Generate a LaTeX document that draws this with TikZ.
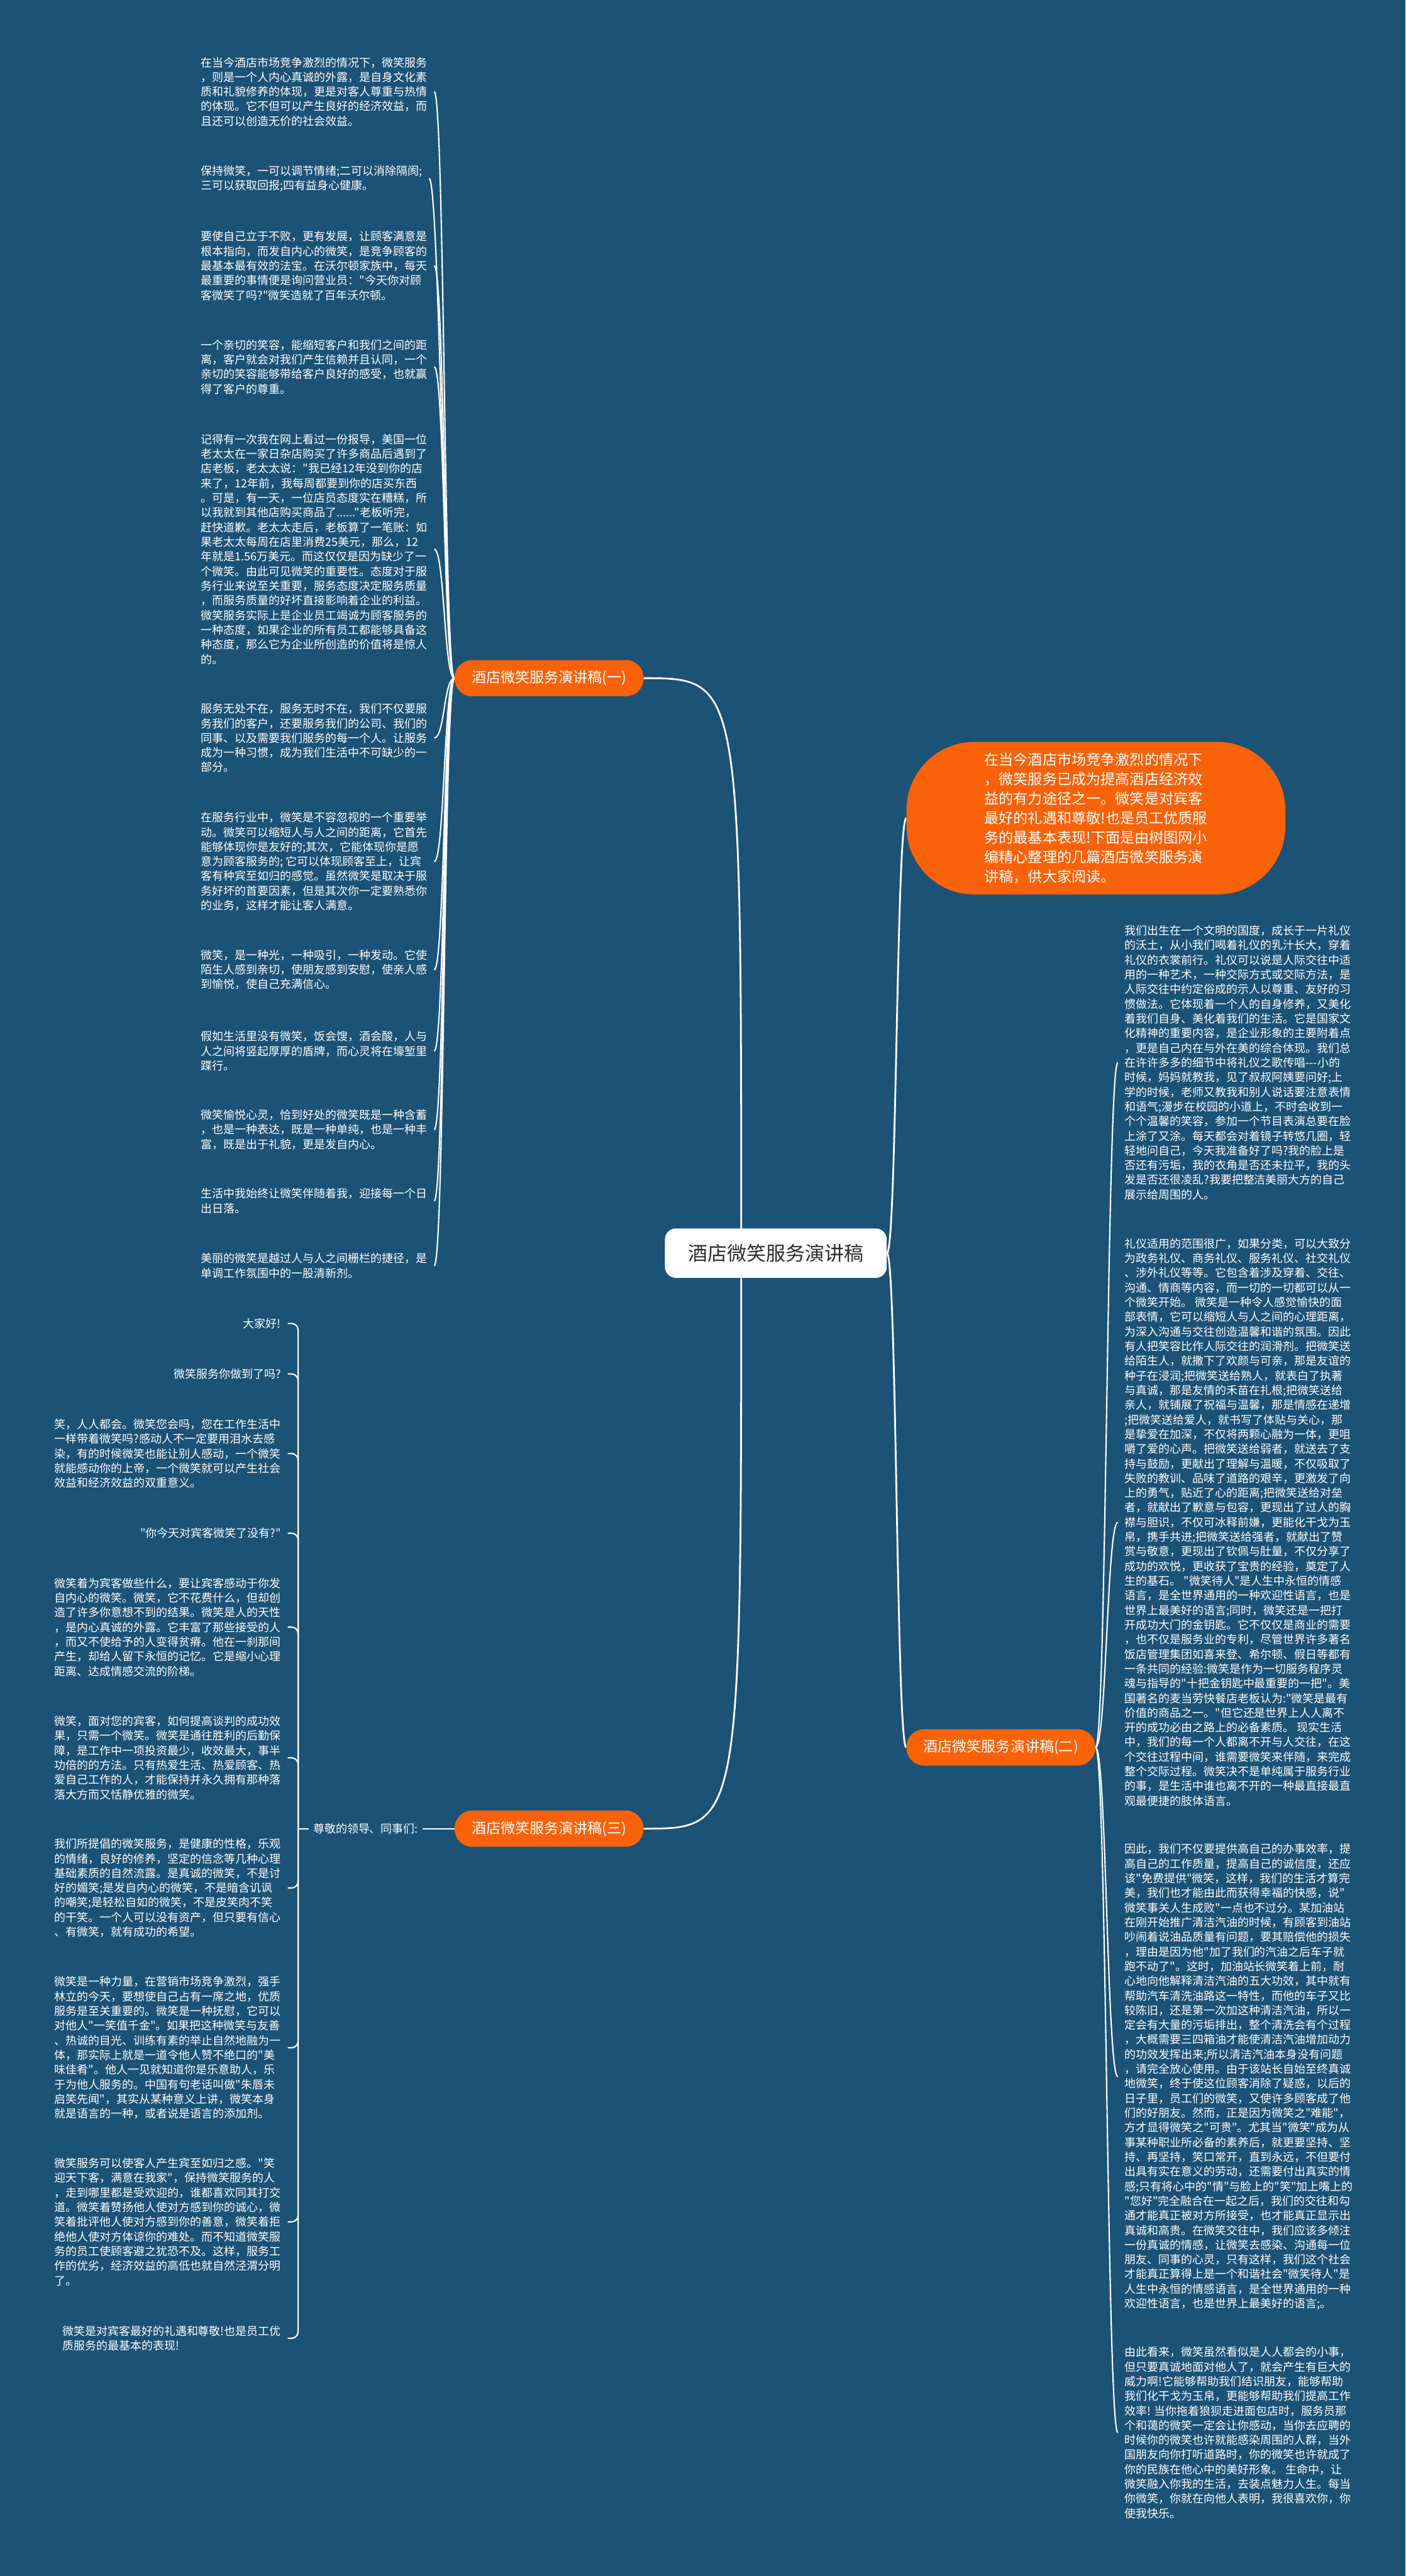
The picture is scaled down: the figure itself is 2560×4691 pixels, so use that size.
\documentclass[tikz,border=0pt]{standalone}
\usepackage{fontspec}
\setmainfont{Noto Sans CJK SC}[Ligatures=TeXOff]
\usetikzlibrary{calc}
\definecolor{bgblue}{RGB}{27,82,118}
\definecolor{orng}{RGB}{250,98,10}
\definecolor{rootink}{RGB}{45,45,45}
\pgfdeclarelayer{bglayer}
\pgfdeclarelayer{linelayer}
\pgfsetlayers{bglayer,linelayer,main}
\begin{document}
\begin{tikzpicture}[x=0.5pt,y=-0.5pt,
 leaf/.style={text=white, font=\fontsize{10.3pt}{13.35pt}\selectfont, align=left, inner xsep=6pt, inner ysep=2pt},
 branchbox/.style={fill=orng, text=white, rounded corners=16pt, minimum height=33pt, minimum width=172pt, font=\fontsize{13.2pt}{16pt}\selectfont, inner sep=0pt},
 rootbox/.style={fill=white, text=rootink, rounded corners=10pt, minimum height=45pt, minimum width=202pt, font=\fontsize{17.75pt}{20pt}\selectfont},
 introbox/.style={fill=orng, text=white, rounded corners=62pt, minimum height=139pt, minimum width=345pt, align=left, font=\fontsize{13.25pt}{17.7pt}\selectfont},
 link/.style={draw=white, line width=1.2pt},
 mainlink/.style={draw=white, line width=1.6pt}]
\useasboundingbox (0,0) rectangle (2560,4691);
\begin{pgfonlayer}{bglayer}
\fill[bgblue] (0,0) rectangle (2560,4691);
\end{pgfonlayer}

% ---------- central and branch nodes
\node[rootbox] (root) at (1413,2282) {酒店微笑服务演讲稿};
\node[introbox] (intro) at (1996,1490) {在当今酒店市场竞争激烈的情况下\\，微笑服务已成为提高酒店经济效\\益的有力途径之一。微笑是对宾客\\最好的礼遇和尊敬!也是员工优质服\\务的最基本表现!下面是由树图网小\\编精心整理的几篇酒店微笑服务演\\讲稿，供大家阅读。};
\node[branchbox] (b1) at (1000,1235) {酒店微笑服务演讲稿(一)};
\node[branchbox] (b2) at (1823,3182) {酒店微笑服务演讲稿(二)};
\node[branchbox] (b3) at (1000,3330) {酒店微笑服务演讲稿(三)};
\node[leaf, anchor=west, inner xsep=4pt] (m3) at (562,3330) {尊敬的领导、同事们:};

% ---------- branch 1 leaves
\node[leaf, anchor=west] (c1) at (354,167) {在当今酒店市场竞争激烈的情况下，微笑服务\\，则是一个人内心真诚的外露，是自身文化素\\质和礼貌修养的体现，更是对客人尊重与热情\\的体现。它不但可以产生良好的经济效益，而\\且还可以创造无价的社会效益。};
\node[leaf, anchor=west] (c2) at (354,325) {保持微笑，一可以调节情绪;二可以消除隔阂;\\三可以获取回报;四有益身心健康。};
\node[leaf, anchor=west] (c3) at (354,484) {要使自己立于不败，更有发展，让顾客满意是\\根本指向，而发自内心的微笑，是竞争顾客的\\最基本最有效的法宝。在沃尔顿家族中，每天\\最重要的事情便是询问营业员："今天你对顾\\客微笑了吗?"微笑造就了百年沃尔顿。};
\node[leaf, anchor=west] (c4) at (354,668) {一个亲切的笑容，能缩短客户和我们之间的距\\离，客户就会对我们产生信赖并且认同，一个\\亲切的笑容能够带给客户良好的感受，也就赢\\得了客户的尊重。};
\node[leaf, anchor=west] (c5) at (354,1000) {记得有一次我在网上看过一份报导，美国一位\\老太太在一家日杂店购买了许多商品后遇到了\\店老板，老太太说："我已经12年没到你的店\\来了，12年前，我每周都要到你的店买东西\\。可是，有一天，一位店员态度实在糟糕，所\\以我就到其他店购买商品了......"老板听完，\\赶快道歉。老太太走后，老板算了一笔账：如\\果老太太每周在店里消费25美元，那么，12\\年就是1.56万美元。而这仅仅是因为缺少了一\\个微笑。由此可见微笑的重要性。态度对于服\\务行业来说至关重要，服务态度决定服务质量\\，而服务质量的好坏直接影响着企业的利益。\\微笑服务实际上是企业员工竭诚为顾客服务的\\一种态度，如果企业的所有员工都能够具备这\\种态度，那么它为企业所创造的价值将是惊人\\的。};
\node[leaf, anchor=west] (c6) at (354,1344) {服务无处不在，服务无时不在，我们不仅要服\\务我们的客户，还要服务我们的公司、我们的\\同事、以及需要我们服务的每一个人。让服务\\成为一种习惯，成为我们生活中不可缺少的一\\部分。};
\node[leaf, anchor=west] (c7) at (354,1569) {在服务行业中，微笑是不容忽视的一个重要举\\动。微笑可以缩短人与人之间的距离，它首先\\能够体现你是友好的;其次，它能体现你是愿\\意为顾客服务的; 它可以体现顾客至上，让宾\\客有种宾至如归的感觉。虽然微笑是取决于服\\务好坏的首要因素，但是其次你一定要熟悉你\\的业务，这样才能让客人满意。};
\node[leaf, anchor=west] (c8) at (354,1766) {微笑，是一种光，一种吸引，一种发动。它使\\陌生人感到亲切，使朋友感到安慰，使亲人感\\到愉悦，使自己充满信心。};
\node[leaf, anchor=west] (c9) at (354,1914) {假如生活里没有微笑，饭会馊，酒会酸，人与\\人之间将竖起厚厚的盾牌，而心灵将在壕堑里\\蹀行。};
\node[leaf, anchor=west] (c10) at (354,2057) {微笑愉悦心灵，恰到好处的微笑既是一种含蓄\\，也是一种表达，既是一种单纯，也是一种丰\\富，既是出于礼貌，更是发自内心。};
\node[leaf, anchor=west] (c11) at (354,2187) {生活中我始终让微笑伴随着我，迎接每一个日\\出日落。};
\node[leaf, anchor=west] (c12) at (354,2305) {美丽的微笑是越过人与人之间栅栏的捷径，是\\单调工作氛围中的一股清新剂。};

% ---------- branch 3 leaves
\node[leaf, anchor=east] (l1) at (524,2410) {大家好!};
\node[leaf, anchor=east] (l2) at (524,2502) {微笑服务你做到了吗?};
\node[leaf, anchor=east] (l3) at (524,2647) {笑，人人都会。微笑您会吗，您在工作生活中\\一样带着微笑吗?感动人不一定要用泪水去感\\染，有的时候微笑也能让别人感动，一个微笑\\就能感动你的上帝，一个微笑就可以产生社会\\效益和经济效益的双重意义。};
\node[leaf, anchor=east] (l4) at (524,2792) {"你今天对宾客微笑了没有?"};
\node[leaf, anchor=east] (l5) at (524,2963) {微笑着为宾客做些什么，要让宾客感动于你发\\自内心的微笑。微笑，它不花费什么，但却创\\造了许多你意想不到的结果。微笑是人的天性\\，是内心真诚的外露。它丰富了那些接受的人\\，而又不使给予的人变得贫瘠。他在一刹那间\\产生，却给人留下永恒的记忆。它是缩小心理\\距离、达成情感交流的阶梯。};
\node[leaf, anchor=east] (l6) at (524,3201) {微笑，面对您的宾客，如何提高谈判的成功效\\果，只需一个微笑。微笑是通往胜利的后勤保\\障，是工作中一项投资最少，收效最大，事半\\功倍的的方法。只有热爱生活、热爱顾客、热\\爱自己工作的人，才能保持并永久拥有那种落\\落大方而又恬静优雅的微笑。};
\node[leaf, anchor=east] (l7) at (524,3438) {我们所提倡的微笑服务，是健康的性格，乐观\\的情绪，良好的修养，坚定的信念等几种心理\\基础素质的自然流露。是真诚的微笑，不是讨\\好的媚笑;是发自内心的微笑，不是暗含讥讽\\的嘲笑;是轻松自如的微笑，不是皮笑肉不笑\\的干笑。一个人可以没有资产，但只要有信心\\、有微笑，就有成功的希望。};
\node[leaf, anchor=east] (l8) at (524,3729) {微笑是一种力量，在营销市场竞争激烈，强手\\林立的今天，要想使自己占有一席之地，优质\\服务是至关重要的。微笑是一种抚慰，它可以\\对他人"一笑值千金"。如果把这种微笑与友善\\、热诚的目光、训练有素的举止自然地融为一\\体，那实际上就是一道令他人赞不绝口的"美\\味佳肴"。他人一见就知道你是乐意助人，乐\\于为他人服务的。中国有句老话叫做"朱唇未\\启笑先闻"，其实从某种意义上讲，微笑本身\\就是语言的一种，或者说是语言的添加剂。};
\node[leaf, anchor=east] (l9) at (524,4046) {微笑服务可以使客人产生宾至如归之感。"笑\\迎天下客，满意在我家"，保持微笑服务的人\\，走到哪里都是受欢迎的，谁都喜欢同其打交\\道。微笑着赞扬他人使对方感到你的诚心，微\\笑着批评他人使对方感到你的善意，微笑着拒\\绝他人使对方体谅你的难处。而不知道微笑服\\务的员工使顾客避之犹恐不及。这样，服务工\\作的优劣，经济效益的高低也就自然泾渭分明\\了。};
\node[leaf, anchor=east] (l10) at (524,4258) {微笑是对宾客最好的礼遇和尊敬!也是员工优\\质服务的最基本的表现!};

% ---------- branch 2 leaves
\node[leaf, anchor=west] (r1) at (2036,1935) {我们出生在一个文明的国度，成长于一片礼仪\\的沃土，从小我们喝着礼仪的乳汁长大，穿着\\礼仪的衣裳前行。礼仪可以说是人际交往中适\\用的一种艺术，一种交际方式或交际方法，是\\人际交往中约定俗成的示人以尊重、友好的习\\惯做法。它体现着一个人的自身修养，又美化\\着我们自身、美化着我们的生活。它是国家文\\化精神的重要内容，是企业形象的主要附着点\\，更是自己内在与外在美的综合体现。我们总\\在许许多多的细节中将礼仪之歌传唱-\kern0pt-\kern0pt-小的\\时候，妈妈就教我，见了叔叔阿姨要问好;上\\学的时候，老师又教我和别人说话要注意表情\\和语气;漫步在校园的小道上，不时会收到一\\个个温馨的笑容，参加一个节目表演总要在脸\\上涂了又涂。每天都会对着镜子转悠几圈，轻\\轻地问自己，今天我准备好了吗?我的脸上是\\否还有污垢，我的衣角是否还未拉平，我的头\\发是否还很凌乱?我要把整洁美丽大方的自己\\展示给周围的人。};
\node[leaf, anchor=west] (r2) at (2036,2772) {礼仪适用的范围很广，如果分类，可以大致分\\为政务礼仪、商务礼仪、服务礼仪、社交礼仪\\、涉外礼仪等等。它包含着涉及穿着、交往、\\沟通、情商等内容，而一切的一切都可以从一\\个微笑开始。 微笑是一种令人感觉愉快的面\\部表情，它可以缩短人与人之间的心理距离，\\为深入沟通与交往创造温馨和谐的氛围。因此\\有人把笑容比作人际交往的润滑剂。把微笑送\\给陌生人，就撒下了欢颜与可亲，那是友谊的\\种子在浸润;把微笑送给熟人，就表白了执著\\与真诚，那是友情的禾苗在扎根;把微笑送给\\亲人，就铺展了祝福与温馨，那是情感在递增\\;把微笑送给爱人，就书写了体贴与关心，那\\是挚爱在加深，不仅将两颗心融为一体，更咀\\嚼了爱的心声。把微笑送给弱者，就送去了支\\持与鼓励，更献出了理解与温暖，不仅吸取了\\失败的教训、品味了道路的艰辛，更激发了向\\上的勇气，贴近了心的距离;把微笑送给对垒\\者，就献出了歉意与包容，更现出了过人的胸\\襟与胆识，不仅可冰释前嫌，更能化干戈为玉\\帛，携手共进;把微笑送给强者，就献出了赞\\赏与敬意，更现出了钦佩与肚量，不仅分享了\\成功的欢悦，更收获了宝贵的经验，奠定了人\\生的基石。 "微笑待人"是人生中永恒的情感\\语言，是全世界通用的一种欢迎性语言，也是\\世界上最美好的语言;同时，微笑还是一把打\\开成功大门的金钥匙。它不仅仅是商业的需要\\，也不仅是服务业的专利，尽管世界许多著名\\饭店管理集团如喜来登、希尔顿、假日等都有\\一条共同的经验:微笑是作为一切服务程序灵\\魂与指导的"十把金钥匙中最重要的一把"。美\\国著名的麦当劳快餐店老板认为:"微笑是最有\\价值的商品之一。"但它还是世界上人人离不\\开的成功必由之路上的必备素质。 现实生活\\中，我们的每一个人都离不开与人交往，在这\\个交往过程中间，谁需要微笑来伴随，来完成\\整个交际过程。微笑决不是单纯属于服务行业\\的事，是生活中谁也离不开的一种最直接最直\\观最便捷的肢体语言。};
\node[leaf, anchor=west] (r3) at (2036,3782) {因此，我们不仅要提供高自己的办事效率，提\\高自己的工作质量，提高自己的诚信度，还应\\该"免费提供"微笑，这样，我们的生活才算完\\美，我们也才能由此而获得幸福的快感，说"\\微笑事关人生成败"一点也不过分。某加油站\\在刚开始推广清洁汽油的时候，有顾客到油站\\吵闹着说油品质量有问题，要其赔偿他的损失\\，理由是因为他"加了我们的汽油之后车子就\\跑不动了"。这时，加油站长微笑着上前，耐\\心地向他解释清洁汽油的五大功效，其中就有\\帮助汽车清洗油路这一特性，而他的车子又比\\较陈旧，还是第一次加这种清洁汽油，所以一\\定会有大量的污垢排出，整个清洗会有个过程\\，大概需要三四箱油才能使清洁汽油增加动力\\的功效发挥出来;所以清洁汽油本身没有问题\\，请完全放心使用。由于该站长自始至终真诚\\地微笑，终于使这位顾客消除了疑惑，以后的\\日子里，员工们的微笑，又使许多顾客成了他\\们的好朋友。然而，正是因为微笑之"难能"，\\方才显得微笑之"可贵"。尤其当"微笑"成为从\\事某种职业所必备的素养后，就更要坚持、坚\\持、再坚持，笑口常开，直到永远，不但要付\\出具有实在意义的劳动，还需要付出真实的情\\感;只有将心中的"情"与脸上的"笑"加上嘴上的\\"您好"完全融合在一起之后，我们的交往和勾\\通才能真正被对方所接受，也才能真正显示出\\真诚和高贵。在微笑交往中，我们应该多倾注\\一份真诚的情感，让微笑去感染、沟通每一位\\朋友、同事的心灵，只有这样，我们这个社会\\才能真正算得上是一个和谐社会"微笑待人"是\\人生中永恒的情感语言，是全世界通用的一种\\欢迎性语言，也是世界上最美好的语言;。};
\node[leaf, anchor=west] (r4) at (2036,4430) {由此看来，微笑虽然看似是人人都会的小事，\\但只要真诚地面对他人了，就会产生有巨大的\\威力啊!它能够帮助我们结识朋友，能够帮助\\我们化干戈为玉帛，更能够帮助我们提高工作\\效率! 当你拖着狼狈走进面包店时，服务员那\\个和蔼的微笑一定会让你感动，当你去应聘的\\时候你的微笑也许就能感染周围的人群，当外\\国朋友向你打听道路时，你的微笑也许就成了\\你的民族在他心中的美好形象。 生命中，让\\微笑融入你我的生活，去装点魅力人生。每当\\你微笑，你就在向他人表明，我很喜欢你，你\\使我快乐。};

% ---------- connectors
\begin{pgfonlayer}{linelayer}
\draw[mainlink] ($(root.center)+(-63,0)$) .. controls ($(root.center |- b1.east)+(-63,0)$) .. (b1.east);
\draw[mainlink] ($(root.center)+(-63,0)$) .. controls ($(root.center |- b3.east)+(-63,0)$) .. (b3.east);
\draw[mainlink] (root.east) .. controls +(18,0) and +(-18,0) .. (intro.west);
\draw[mainlink] (root.east) .. controls +(18,0) and +(-18,0) .. (b2.west);

\foreach \c in {c1,c2,c3,c4,c5,c6,c7,c8,c9,c10,c11,c12}
  \draw[link] (b1.west) .. controls +(-19,0) and +(19,0) .. (\c.east);

\foreach \r in {r1,r2,r3,r4}
  \draw[link] (b2.east) .. controls +(20,0) and +(-20,0) .. (\r.west);

\draw[link] (b3.west) -- (m3.east);
\coordinate (j3) at ($(m3.west)+(-19,0)$);
\draw[link] (m3.west) -- (j3);
\foreach \l in {l1,l2,l3,l4,l5,l6,l7,l8,l9,l10}
  \draw[link, rounded corners=6pt] (j3) |- (\l.east);
\end{pgfonlayer}
\end{tikzpicture}
\end{document}
